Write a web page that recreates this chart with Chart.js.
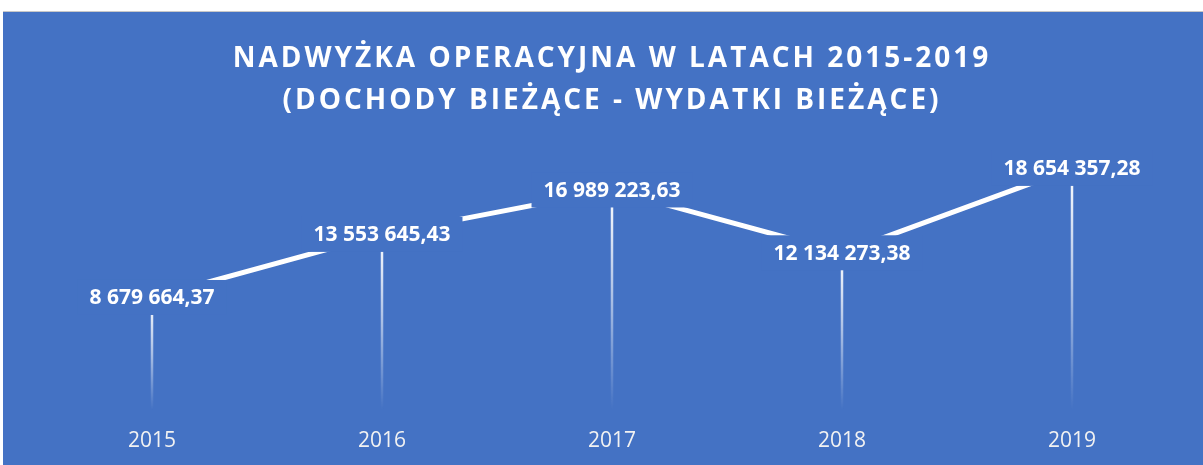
<!DOCTYPE html>
<html>
<head>
<meta charset="utf-8">
<script src="https://cdn.jsdelivr.net/npm/chart.js@4/dist/chart.umd.min.js"></script>
<style>
    html, body { margin: 0; padding: 0; background: #ffffff; }
    #wrap {
        position: absolute;
        left: 3px;
        top: 11px;
        width: 1200px;
        height: 454px;
        background: #4472C4;
        border-top: 1px solid #c8c8c8;
    }
    #chart { display: block; }
</style>
</head>
<body>
<div id="wrap"><canvas id="chart" width="1200" height="453"></canvas></div>
<script>
// Data
const years = ['2015', '2016', '2017', '2018', '2019'];
const surplus = [8679664.37, 13553645.43, 16989223.63, 12134273.38, 18654357.28];
const titleLines = ['NADWYŻKA OPERACYJNA W LATACH 2015-2019', '(DOCHODY BIEŻĄCE - WYDATKI BIEŻĄCE)'];

const BG = '#4472C4';

// Polish number format: 8 679 664,37
function formatPL(v) {
    const parts = v.toFixed(2).split('.');
    const intPart = parts[0].replace(/\B(?=(\d{3})+(?!\d))/g, ' ');
    return intPart + ',' + parts[1];
}

// Vertical drop lines, fading out towards the axis
const dropLines = {
    id: 'dropLines',
    beforeDatasetsDraw(chart) {
        const ctx = chart.ctx;
        const bottom = chart.chartArea.bottom;
        const meta = chart.getDatasetMeta(0);
        ctx.save();
        ctx.lineWidth = 2.5;
        meta.data.forEach(pt => {
            const g = ctx.createLinearGradient(0, pt.y, 0, bottom);
            g.addColorStop(0, 'rgba(255,255,255,1)');
            g.addColorStop(0.5, 'rgba(255,255,255,0.55)');
            g.addColorStop(1, 'rgba(255,255,255,0)');
            ctx.strokeStyle = g;
            ctx.beginPath();
            ctx.moveTo(pt.x, pt.y);
            ctx.lineTo(pt.x, bottom);
            ctx.stroke();
        });
        ctx.restore();
    }
};

// Value labels sitting on the points, with a background box hiding the line
const valueLabels = {
    id: 'valueLabels',
    afterDatasetsDraw(chart) {
        const ctx = chart.ctx;
        const meta = chart.getDatasetMeta(0);
        const values = chart.data.datasets[0].data;
        ctx.save();
        ctx.font = 'bold 21px "Open Sans"';
        ctx.textAlign = 'center';
        ctx.textBaseline = 'middle';
        meta.data.forEach((pt, i) => {
            const text = formatPL(values[i]);
            const w = ctx.measureText(text).width + 24;
            const h = 35;
            ctx.fillStyle = BG;
            ctx.fillRect(pt.x - w / 2, pt.y - h / 2, w, h);
            ctx.fillStyle = '#ffffff';
            ctx.fillText(text, pt.x, pt.y + 1);
        });
        ctx.restore();
    }
};

// Spaced-out title letters like the original
const titleSpacing = {
    id: 'titleSpacing',
    afterInit(chart) {
        const tb = chart.titleBlock;
        if (!tb) return;
        const orig = tb.draw.bind(tb);
        tb.draw = function () {
            chart.ctx.save();
            chart.ctx.letterSpacing = '3px';
            orig();
            chart.ctx.restore();
        };
    }
};

const ctx = document.getElementById('chart').getContext('2d');
const chart = new Chart(ctx, {
    type: 'line',
    data: {
        labels: years,
        datasets: [{
            data: surplus,
            borderColor: '#ffffff',
            borderWidth: 5,
            tension: 0,
            pointRadius: 0,
            pointHoverRadius: 0,
            fill: false
        }]
    },
    options: {
        responsive: false,
        animation: false,
        events: [],
        layout: {
            padding: { left: 34, right: 16, top: 26, bottom: 0 }
        },
        scales: {
            x: {
                offset: true,
                grid: { display: false },
                border: { display: false },
                ticks: {
                    color: '#f2f2f2',
                    font: { family: 'Open Sans', size: 21 },
                    padding: 11
                }
            },
            y: {
                display: false,
                min: 0,
                max: 20000000
            }
        },
        plugins: {
            legend: { display: false },
            tooltip: { enabled: false },
            title: {
                display: true,
                text: titleLines,
                color: '#ffffff',
                font: { family: 'Open Sans', size: 28, weight: 'bold', lineHeight: 1.5 },
                padding: { top: 0, bottom: 29 }
            }
        }
    },
    plugins: [dropLines, valueLabels, titleSpacing]
});
</script>
</body>
</html>
